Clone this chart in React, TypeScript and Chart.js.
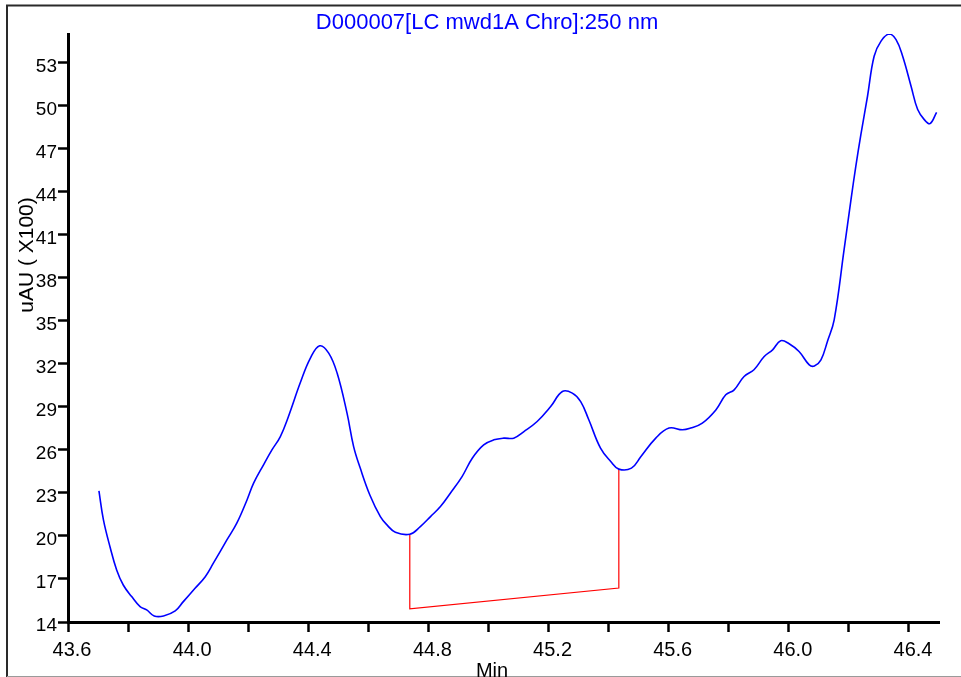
import React, { useEffect, useRef } from 'react';
import { Chart, registerables } from 'chart.js';

Chart.register(...registerables);

const TITLE = 'D000007[LC mwd1A Chro]:250 nm';
const Y_TITLE = 'uAU ( X100)';
const X_TITLE = 'Min';

const times = [
  43.703, 43.718, 43.74, 43.762, 43.784, 43.812, 43.84, 43.862, 43.887, 43.918,
  43.957, 43.984, 44.023, 44.057, 44.084, 44.129, 44.162, 44.196, 44.218, 44.251,
  44.279, 44.307, 44.334, 44.373, 44.407, 44.438, 44.468, 44.496, 44.529, 44.551,
  44.573, 44.605, 44.64, 44.662, 44.69, 44.738, 44.773, 44.807, 44.84, 44.873,
  44.912, 44.946, 44.984, 45.018, 45.051, 45.084, 45.118, 45.162, 45.207, 45.246,
  45.279, 45.307, 45.334, 45.373, 45.407, 45.434, 45.476, 45.507, 45.557, 45.601,
  45.646, 45.673, 45.712, 45.757, 45.79, 45.818, 45.851, 45.884, 45.918, 45.946,
  45.973, 46.001, 46.034, 46.068, 46.085, 46.107, 46.129, 46.151, 46.184, 46.207,
  46.223, 46.24, 46.262, 46.284, 46.307, 46.334, 46.357, 46.379, 46.407, 46.429,
  46.451, 46.47, 46.492,
];

const values = [
  23.14, 21.12, 19.23, 17.63, 16.58, 15.77, 15.07, 14.84, 14.42, 14.42,
  14.77, 15.42, 16.35, 17.16, 18.1, 19.72, 20.89, 22.51, 23.68, 24.96,
  26.0, 26.93, 28.33, 30.66, 32.4, 33.26, 32.75, 31.36, 28.56, 26.23,
  24.73, 22.86, 21.35, 20.77, 20.26, 20.12, 20.65, 21.35, 22.05, 22.98,
  24.14, 25.42, 26.35, 26.7, 26.82, 26.82, 27.28, 27.98, 29.02, 30.07,
  29.96, 29.37, 28.1, 26.12, 25.19, 24.66, 24.73, 25.52, 26.82, 27.52,
  27.4, 27.52, 27.87, 28.79, 29.84, 30.19, 31.12, 31.59, 32.51, 32.98,
  33.61, 33.4, 32.86, 31.93, 31.85, 32.28, 33.6, 35.07, 39.96, 43.45,
  45.77, 48.0, 50.66, 53.45, 54.5, 55.0, 54.61, 53.45, 51.36, 49.73,
  49.03, 48.75, 49.54,
];

const baselineTimes = [44.738, 44.738, 45.434, 45.434];
const baselineValues = [20.12, 14.91, 16.37, 24.66];

const xTickValues = [43.6, 43.8, 44.0, 44.2, 44.4, 44.6, 44.8, 45.0, 45.2, 45.4, 45.6, 45.8, 46.0, 46.2, 46.4];
const xTickLabels = ['43.6', '', '44.0', '', '44.4', '', '44.8', '', '45.2', '', '45.6', '', '46.0', '', '46.4'];
const yTickValues = [14, 17, 20, 23, 26, 29, 32, 35, 38, 41, 44, 47, 50, 53];

const X_MIN = 43.6;
const X_MAX = 46.5;
const Y_MIN = 14;
const Y_MAX = 55;

const FONT = '"Liberation Sans", Arial, sans-serif';

const decorPlugin = {
  id: 'decor',
  beforeDraw(chart: any) {
    const ctx = chart.ctx;
    ctx.save();
    ctx.fillStyle = '#ffffff';
    ctx.fillRect(0, 0, chart.width, chart.height);
    ctx.restore();
  },
  afterDraw(chart: any) {
    const ctx = chart.ctx;
    ctx.save();
    // frame
    ctx.strokeStyle = '#2a2a2a';
    ctx.lineWidth = 2;
    ctx.beginPath();
    ctx.moveTo(7, 677);
    ctx.lineTo(7, 5.5);
    ctx.lineTo(961, 5.5);
    ctx.stroke();
    ctx.strokeStyle = '#9a9a9a';
    ctx.lineWidth = 1;
    ctx.beginPath();
    ctx.moveTo(7, 676.5);
    ctx.lineTo(961, 676.5);
    ctx.stroke();
    // title
    ctx.fillStyle = '#0000ff';
    ctx.font = `22px ${FONT}`;
    ctx.textAlign = 'center';
    ctx.textBaseline = 'alphabetic';
    ctx.fillText(TITLE, 487, 29);
    // x title
    ctx.fillStyle = '#000000';
    ctx.font = `20px ${FONT}`;
    ctx.fillText(X_TITLE, 492, 677);
    // y title
    ctx.translate(33, 255);
    ctx.rotate(-Math.PI / 2);
    ctx.font = `21px ${FONT}`;
    ctx.fillText(Y_TITLE, 0, 0);
    ctx.restore();
  },
};

export default function App() {
  const ref = useRef<HTMLCanvasElement | null>(null);

  useEffect(() => {
    document.body.style.margin = '0';
    const canvas = ref.current;
    if (!canvas) return;
    const chart = new Chart(canvas, {
      type: 'scatter',
      data: {
        datasets: [
          {
            label: 'signal',
            data: times.map((t, i) => ({ x: t, y: values[i] })),
            showLine: true,
            borderColor: '#0000ff',
            borderWidth: 1.6,
            pointRadius: 0,
            tension: 0.4,
            fill: false,
          },
          {
            label: 'baseline',
            data: baselineTimes.map((t, i) => ({ x: t, y: baselineValues[i] })),
            showLine: true,
            borderColor: '#ff0000',
            borderWidth: 1.2,
            pointRadius: 0,
            tension: 0,
            fill: false,
          },
        ],
      },
      options: {
        animation: false,
        responsive: false,
        devicePixelRatio: 1,
        layout: { padding: { left: 0, top: 34, right: 22, bottom: 0 } },
        plugins: {
          legend: { display: false },
          tooltip: { enabled: false },
          title: { display: false },
        },
        scales: {
          x: {
            type: 'linear',
            min: X_MIN,
            max: X_MAX,
            afterBuildTicks: (scale: any) => {
              scale.ticks = xTickValues.map((v) => ({ value: v }));
            },
            afterFit: (scale: any) => {
              scale.height = 55;
            },
            ticks: {
              autoSkip: false,
              maxRotation: 0,
              minRotation: 0,
              padding: 6,
              labelOffset: 4,
              color: '#000000',
              font: { family: FONT, size: 20 },
              callback: (_v: any, i: number) => xTickLabels[i],
            },
            grid: {
              drawOnChartArea: false,
              drawTicks: true,
              tickLength: 10,
              tickColor: '#000000',
              tickWidth: 2.5,
              color: '#000000',
            },
            border: { display: true, color: '#000000', width: 3 },
          },
          y: {
            type: 'linear',
            min: Y_MIN,
            max: Y_MAX,
            afterBuildTicks: (scale: any) => {
              scale.ticks = yTickValues.map((v) => ({ value: v }));
            },
            afterFit: (scale: any) => {
              scale.width = 68;
            },
            ticks: {
              autoSkip: false,
              padding: 1,
              labelOffset: 4,
              color: '#000000',
              font: { family: FONT, size: 19 },
              callback: (v: any) => String(v),
            },
            grid: {
              drawOnChartArea: false,
              drawTicks: true,
              tickLength: 10,
              tickColor: '#000000',
              tickWidth: 2.5,
              color: '#000000',
            },
            border: { display: true, color: '#000000', width: 3 },
          },
        },
      },
      plugins: [decorPlugin],
    } as any);
    return () => {
      chart.destroy();
    };
  }, []);

  return (
    <div style={{ position: 'absolute', left: 0, top: 0, width: 961, height: 677 }}>
      <canvas ref={ref} width={961} height={677} style={{ display: 'block' }} />
    </div>
  );
}
